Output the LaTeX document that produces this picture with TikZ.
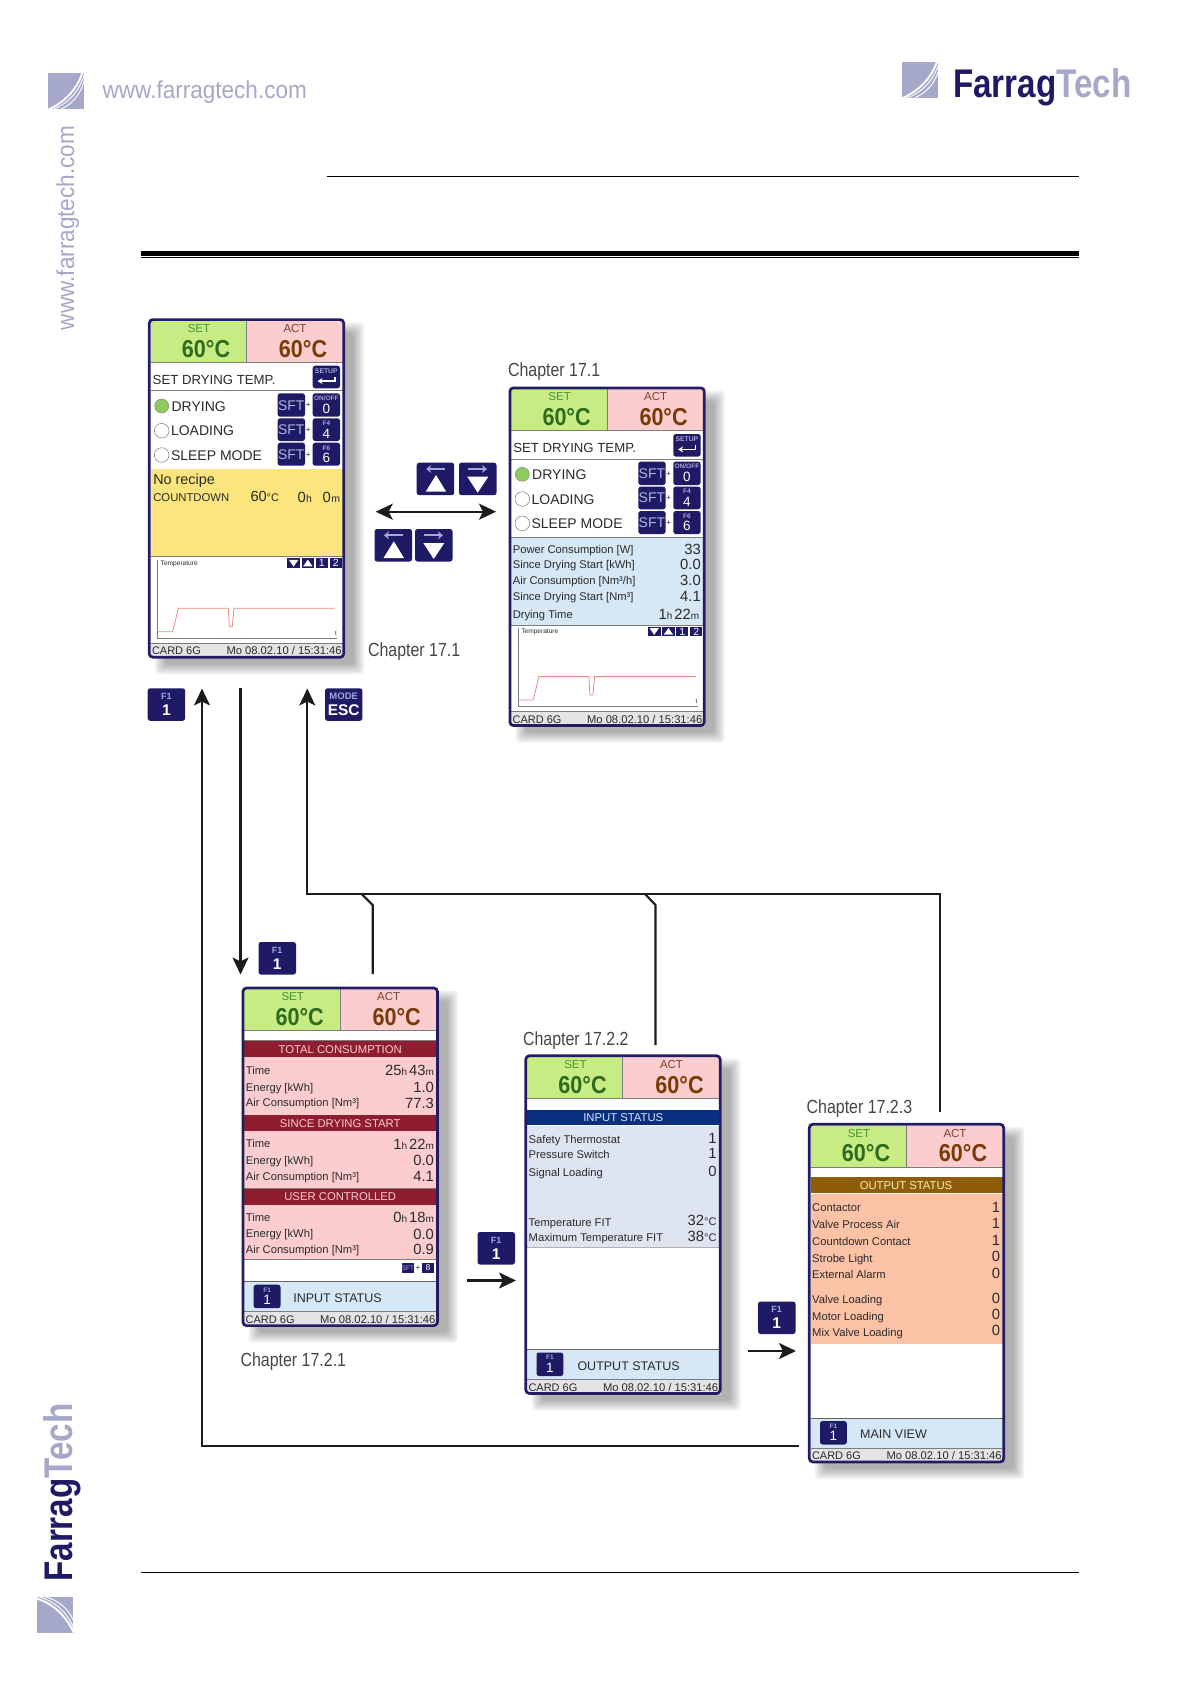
\documentclass[tikz,border=0pt]{standalone}
\usepackage{fontspec}
\setmainfont{Liberation Sans}
\newfontfamily\cond[FakeStretch=0.83]{Liberation Sans}
\newfontfamily\chapf[FakeStretch=0.84]{Liberation Sans}
\newfontfamily\web[FakeStretch=0.92]{Liberation Sans}
\newfontfamily\tempf[FakeStretch=0.88]{Liberation Sans}
\usetikzlibrary{arrows.meta,calc}
\definecolor{navy}{HTML}{1F1A66}
\definecolor{frameblue}{HTML}{221D63}
\definecolor{logoblue}{HTML}{A5A8C8}
\definecolor{setbg}{HTML}{C8EC84}
\definecolor{actbg}{HTML}{FBCDCF}
\definecolor{setdark}{HTML}{2E6B1E}
\definecolor{setlab}{HTML}{4A9236}
\definecolor{actdark}{HTML}{7A3A06}
\definecolor{actlab}{HTML}{7E3F2A}
\definecolor{inktxt}{HTML}{2A2A2A}
\definecolor{keyfaint}{HTML}{A6A6D8}
\definecolor{yelbg}{HTML}{FBE57C}
\definecolor{bluebg}{HTML}{D6E7F5}
\definecolor{lavbg}{HTML}{DEE4F0}
\definecolor{peachbg}{HTML}{FCC2A6}
\definecolor{maroon}{HTML}{8E1D30}
\definecolor{brownbar}{HTML}{8F5D0A}
\definecolor{navybar}{HTML}{0A2F80}
\definecolor{footbg}{HTML}{E4E4E4}
\definecolor{sepgray}{HTML}{7C7C7C}
\definecolor{redline}{HTML}{E88C82}
\definecolor{conn}{HTML}{1C1C1C}
\definecolor{chapgray}{HTML}{454545}
\definecolor{drygreen}{HTML}{8FCB5E}
\tikzset{
  txt/.style={inner sep=0pt,outer sep=0pt,anchor=base west,text=inktxt},
  sepline/.style={draw=sepgray,line width=0.9pt},
  connline/.style={draw=conn,line width=2.1pt},
  bigtip/.style={-{Stealth[length=17pt,width=16pt,inset=4pt]}},
  bothtips/.style={{Stealth[length=17pt,width=16pt,inset=4pt]}-{Stealth[length=17pt,width=16pt,inset=4pt]}},
  chap/.style={txt,text=chapgray,font=\chapf\fontsize{19}{19}\selectfont},
  webtxt/.style={inner sep=0pt,outer sep=0pt,text=logoblue,font=\web\fontsize{24.5}{24.5}\selectfont},
  brand/.style={inner sep=0pt,outer sep=0pt,font=\cond\bfseries\fontsize{40}{40}\selectfont}
}
\newcounter{tn}
\newcommand\fsz[1]{\fontsize{#1}{#1}\selectfont}
% [options]{x}{y (centre of capitals)}{size}{text}
\newcommand\lbl[5][]{\stepcounter{tn}\node[txt,#1] (t\arabic{tn}) at (#2,{#3+.36*#4}) {\fsz{#4}#5};}
\newcommand\rowL[2]{\lbl{4.2}{#1}{11.2}{#2}}
\newcommand\rowV[2]{\lbl[anchor=base east]{192.2}{#1}{14.8}{#2}}
\newcommand\hmv[2]{#1{\fsz{10}h}\hspace{2pt}#2{\fsz{10}m}}
\newcommand\kbox[4]{\fill[navy,rounded corners=2.5pt] (#1,#2) rectangle (#3,#4);}
% soft key inside a screen
\newcommand\skey[6]{\kbox{#1}{#2}{#3}{#4}%
  \pgfmathsetmacro\kcx{(#1+#3)/2}%
  \lbl[anchor=base,text=keyfaint]{\kcx}{#2+5}{6.5}{\textbf{#5}}%
  \lbl[anchor=base,text=white]{\kcx}{#2+15}{13.5}{#6}}
\newcommand\sftkey[2]{\kbox{129.7}{#1}{157}{#2}%
  \lbl[anchor=base,text=keyfaint!85!white]{143.3}{(#1+#2)/2}{14}{SFT}%
  \lbl[anchor=base,text=inktxt]{160.2}{(#1+#2)/2}{8}{+}}
% big key outside the screens
\newcommand\outkey[4]{\kbox{#1}{#2}{#1+37.5}{#2+32.5}%
  \lbl[anchor=base,text=keyfaint]{#1+18.7}{#2+8}{9}{\textbf{#3}}%
  \lbl[anchor=base,text=white]{#1+18.7}{#2+21.5}{15.5}{\textbf{#4}}}
\newcommand\arrup[2]{\begin{scope}[shift={(#1,#2)}]
  \kbox{0}{0}{37.5}{32.5}
  \draw[keyfaint,line width=2pt,-{Stealth[length=5pt,width=8pt]}] (28,6.3) -- (9.5,6.3);
  \fill[white] (19.3,12.3) -- (29.5,29) -- (9,29) -- cycle;
\end{scope}}
\newcommand\arrdown[2]{\begin{scope}[shift={(#1,#2)}]
  \kbox{0}{0}{37.5}{32.5}
  \draw[keyfaint,line width=2pt,-{Stealth[length=5pt,width=8pt]}] (9.3,6.3) -- (28,6.3);
  \fill[white] (8.3,14) -- (29.3,14) -- (18.7,30) -- cycle;
\end{scope}}
% logo mark: 36 x 36, origin top left
\newcommand\logomark[3]{\begin{scope}[shift={(#1,#2)},rotate=#3]
  \fill[logoblue] (0,0) rectangle (36,36);
  \draw[white,line width=1.9pt] (0,36.8) .. controls (15,30) and (29,18) .. (35,-1);
  \draw[white,line width=.9pt] (5,36.5) .. controls (19,31) and (31,20) .. (36.5,2);
  \draw[white,line width=.9pt] (12,36.5) .. controls (23,32) and (33,23) .. (37,6);
\end{scope}}
% screen frame
\newcommand\screen[4]{\begin{scope}[shift={(#2,#3)}]
  \foreach \e in {6,4,2,0,-2,-4}{\fill[black,opacity=.06,rounded corners=4pt]
     ({13-\e},{10-\e}) rectangle ({210+\e},{350+\e});}
  \fill[white] (1,1) rectangle (196,339);
  \fill[setbg] (2.7,2.7) rectangle (98.3,44);
  \fill[actbg] (98.3,2.7) rectangle (194.7,44);
  \draw[draw=sepgray,line width=.7pt] (98.3,2.7) -- (98.3,44);
  \draw[sepline] (2.7,44) -- (194.7,44);
  \lbl[anchor=base,text=setlab]{51}{10}{11.5}{SET}
  \lbl[anchor=base,text=actlab]{147}{10}{11.5}{ACT}
  \lbl[anchor=base,text=setdark]{58}{30}{24.5}{\tempf\textbf{60°C}}
  \lbl[anchor=base,text=actdark]{155}{30}{24.5}{\tempf\textbf{60°C}}
  #4
  \fill[footbg] (2.7,325) rectangle (194.7,338);
  \draw[sepline] (2.7,325) -- (194.7,325);
  \lbl{4}{332.6}{11}{CARD 6G}
  \lbl[anchor=base east]{193.7}{332.6}{11.2}{Mo 08.02.10 / 15:31:46}
  \draw[frameblue,line width=2.7pt,rounded corners=3.5pt] (1.3,1.3) rectangle (195.7,338.9);
  \node[inner sep=0pt,outer sep=0pt,minimum width=197pt,minimum height=340pt,anchor=north west] (#1) at (0,0) {};
\end{scope}}
% upper part shared by the two main views
\newcommand\mainpart{%
  \lbl{4.7}{61}{13.2}{SET DRYING TEMP.}
  \kbox{164.7}{47.4}{192}{70}
  \lbl[anchor=base,text=keyfaint]{178.3}{52.5}{6.8}{\textbf{SETUP}}
  \draw[white,line width=1.5pt,-{Stealth[length=5pt,width=6pt]}] (187,58.5) -- (187,62.8) -- (169.5,62.8);
  \draw[sepline] (2.7,72.4) -- (194.7,72.4);
  \fill[drygreen,draw=sepgray,line width=.4pt] (13.7,87.7) circle (7);
  \draw[sepgray,line width=.5pt] (13.7,112.4) circle (7.3);
  \draw[sepgray,line width=.5pt] (13.7,136.7) circle (7.3);
  \lbl{23.6}{87.7}{14}{DRYING}
  \lbl{23}{112.4}{14}{LOADING}
  \lbl{23}{136.7}{14}{SLEEP MODE}
  \sftkey{75}{98.4}\sftkey{100}{122.7}\sftkey{124.4}{147.4}
  \skey{164.7}{75}{192}{98.4}{ON/OFF}{0}
  \skey{164.7}{100}{192}{122.7}{F4}{4}
  \skey{164.7}{124.4}{192}{147.4}{F6}{6}
  \draw[sepline] (2.7,150.7) -- (194.7,150.7);}
\newcommand\graphpart{%
  \draw[sepline] (2.7,238.4) -- (194.7,238.4);
  \draw[sepgray,line width=.7pt] (9.3,241.5) -- (9.3,320) -- (189,320);
  \lbl{12.7}{245}{6.6}{Temperature}
  \lbl{187}{315}{6.2}{t}
  \draw[redline,line width=.8pt] (9.3,313.4) -- (24.7,313.4) -- (30.3,290) -- (80.3,290) -- (81.3,308.4) -- (84.3,308.4) -- (86,290) -- (187,290);
  \fill[navy] (139.3,240) rectangle (152,249.4);
  \fill[white] (141,241.5) -- (150.3,241.5) -- (145.6,248.3) -- cycle;
  \fill[navy] (153.7,240) rectangle (166,249.4);
  \fill[white] (155.2,248) -- (164.5,248) -- (159.8,241.3) -- cycle;
  \fill[navy] (167.7,240) rectangle (179.7,249.4);
  \lbl[anchor=base,text=white]{173.7}{244.8}{10.5}{1}
  \fill[navy] (181.7,240) rectangle (193.7,249.4);
  \lbl[anchor=base,text=white]{187.7}{244.8}{10.5}{2}}
\newcommand\statusband[6]{%
  \draw[sepline] (2.7,#1) -- (194.7,#1);
  \fill[#3] (2.7,#1) rectangle (194.7,#2);
  \lbl[anchor=base,text=#4]{98.5}{(#1+#2)/2}{11.3}{#5}#6}
\newcommand\fonepart[3]{%
  \draw[draw=sepgray!80!black,line width=1pt] (2.7,295) -- (194.7,295);
  \fill[bluebg] (2.7,295.5) rectangle (194.7,324.6);
  \skey{12}{298}{38.8}{321.5}{F1}{1}
  \lbl{#1}{#2}{12.5}{#3}}
\begin{document}
\begin{tikzpicture}[x=1pt,y=-1pt]
\path[use as bounding box] (0,0) rectangle (1190,1684);
% rules
\draw[black,line width=1.2pt] (327,176.5) -- (1079,176.5);
\fill[black] (141,250.8) rectangle (1079,255.6);
\draw[black,line width=1.1pt] (141,257.6) -- (1079,257.6);
\draw[black,line width=1.1pt] (141,1572.3) -- (1079,1572.3);
% branding
\logomark{47.5}{73.3}{0}
\logomark{902.3}{61.5}{0}
\logomark{37.3}{1633.3}{90}
\node[webtxt,anchor=base west] (web1) at (102.7,98) {www.farragtech.com};
\node[webtxt,anchor=base,rotate=90] (web2) at (74,228) {www.farragtech.com};
\node[brand,anchor=base west] (brand1) at (953,97.3) {\textcolor{navy}{Farrag}\textcolor{logoblue}{Tech}};
\node[brand,anchor=base west,rotate=90] (brand2) at (72.7,1581.7) {\textcolor{navy}{Farrag}\textcolor{logoblue}{Tech}};
% screens
\screen{s1}{148}{318.3}{%
  \mainpart
  \fill[yelbg] (2.7,151) rectangle (194.7,238.4);
  \lbl{5.3}{161}{14.4}{No recipe}
  \lbl{5.3}{179}{11.3}{COUNTDOWN}
  \lbl{102.5}{178}{14.6}{60{\fsz{11}°C}}
  \lbl{149.7}{179}{14.8}{0}
  \lbl{158}{180}{10.5}{h}
  \lbl{174.7}{179}{14.8}{0}
  \lbl{183.3}{180}{10.5}{m}
  \graphpart}
\screen{s2}{508.6}{386.6}{%
  \mainpart
  \fill[bluebg] (2.7,151) rectangle (194.7,238.4);
  \rowL{162.4}{Power Consumption [W]}
  \rowL{178}{Since Drying Start [kWh]}
  \rowL{194}{Air Consumption [Nm³/h]}
  \rowL{209.4}{Since Drying Start [Nm³]}
  \rowL{228}{Drying Time}
  \rowV{162.4}{33}\rowV{178}{0.0}\rowV{194}{3.0}\rowV{209.4}{4.1}
  \lbl[anchor=base east]{190.5}{228}{14.8}{\hmv{1}{22}}
  \graphpart}
\screen{s3}{241.7}{986.7}{%
  \fill[actbg] (2.7,70.6) rectangle (194.7,273);
  \statusband{54}{70.6}{maroon}{actbg}{TOTAL CONSUMPTION}{}
  \rowL{83.6}{Time}\rowL{100.3}{Energy [kWh]}\rowL{116}{Air Consumption [Nm³]}
  \lbl[anchor=base east]{192.2}{83.6}{14.8}{\hmv{25}{43}}
  \rowV{100.3}{1.0}\rowV{116}{77.3}
  \statusband{128.3}{144.5}{maroon}{actbg}{SINCE DRYING START}{}
  \rowL{157}{Time}\rowL{173.3}{Energy [kWh]}\rowL{189.3}{Air Consumption [Nm³]}
  \lbl[anchor=base east]{192.2}{157}{14.8}{\hmv{1}{22}}
  \rowV{173.3}{0.0}\rowV{189.3}{4.1}
  \statusband{202}{217.8}{maroon}{actbg}{USER CONTROLLED}{}
  \rowL{230.6}{Time}\rowL{247}{Energy [kWh]}\rowL{262.6}{Air Consumption [Nm³]}
  \lbl[anchor=base east]{192.2}{230.6}{14.8}{\hmv{0}{18}}
  \rowV{247}{0.0}\rowV{262.6}{0.9}
  \draw[sepline] (2.7,273) -- (194.7,273);
  \fill[navy] (160,276) rectangle (172.6,286);
  \lbl[anchor=base,text=keyfaint]{166.3}{281}{6.5}{SFT}
  \lbl[anchor=base]{176.2}{281}{8}{+}
  \fill[navy] (180.6,276) rectangle (192.3,286);
  \lbl[anchor=base,text=white]{186.4}{281}{8.5}{8}
  \fonepart{51.6}{311.6}{INPUT STATUS}}
\screen{s4}{524.5}{1054.5}{%
  \fill[navybar] (2.7,55) rectangle (194.7,70.5);
  \lbl[anchor=base,text=bluebg]{98.8}{62.8}{11.3}{INPUT STATUS}
  \fill[lavbg] (2.7,71.5) rectangle (194.7,193);
  \draw[draw=sepgray!60!white,line width=.8pt] (2.7,193) -- (194.7,193);
  \rowL{85}{Safety Thermostat}\rowL{100}{Pressure Switch}\rowL{117.5}{Signal Loading}
  \rowL{168}{Temperature FIT}\rowL{183}{Maximum Temperature FIT}
  \rowV{84}{1}\rowV{99}{1}\rowV{116.5}{0}
  \lbl[anchor=base east]{192}{165.5}{14.8}{32{\fsz{11}°C}}
  \lbl[anchor=base east]{192}{181.5}{14.8}{38{\fsz{11}°C}}
  \fonepart{53}{311}{OUTPUT STATUS}}
\screen{s5}{808}{1123}{%
  \fill[brownbar] (2.7,53.7) rectangle (194.7,70.3);
  \lbl[anchor=base,text=yelbg!60!white]{98}{62.3}{11.3}{OUTPUT STATUS}
  \fill[peachbg] (2.7,71.3) rectangle (194.7,221.3);
  \rowL{84.7}{Contactor}\rowL{101.7}{Valve Process Air}\rowL{118}{Countdown Contact}
  \rowL{135.3}{Strobe Light}\rowL{151.7}{External Alarm}
  \rowL{176}{Valve Loading}\rowL{193.3}{Motor Loading}\rowL{209}{Mix Valve Loading}
  \rowV{84}{1}\rowV{100}{1}\rowV{117}{1}\rowV{133}{0}\rowV{150}{0}\rowV{175}{0}\rowV{191}{0}\rowV{207}{0}
  \fonepart{52.2}{311}{MAIN VIEW}}
% chapter labels
\node[chap] (c1) at (508,376) {Chapter 17.1};
\node[chap] (c2) at (368,656) {Chapter 17.1};
\node[chap] (c3) at (240.5,1366) {Chapter 17.2.1};
\node[chap] (c4) at (523,1045) {Chapter 17.2.2};
\node[chap] (c5) at (806.6,1113) {Chapter 17.2.3};
% keys
\arrup{416.7}{462.7}\arrdown{459}{462.7}
\arrup{374.5}{529}\arrdown{415}{529}
\outkey{147.7}{688.3}{F1}{1}
\kbox{325}{688.3}{362.4}{720.8}
\lbl[anchor=base,text=keyfaint]{343.7}{696}{9.5}{\textbf{MODE}}
\lbl[anchor=base,text=white]{343.7}{710}{15.5}{\textbf{ESC}}
\outkey{258.5}{942}{F1}{1}
\outkey{477.5}{1232}{F1}{1}
\outkey{758}{1301.5}{F1}{1}
% connectors
\coordinate (dA) at (375.7,511.7);
\coordinate (dB) at (496,511.7);
\draw[connline,bothtips] (dA) -- (dB);
\coordinate (u1top) at (202,688.5);
\coordinate (u1bot) at (202,1446);
\coordinate (u1end) at (799,1446);
\draw[connline,bigtip,line join=miter] (u1end) -- (u1bot) -- (u1top);
\coordinate (d1top) at (240.5,688);
\coordinate (d1bot) at (240.5,974.5);
\draw[connline,bigtip] (d1top) -- (d1bot);
\coordinate (u2top) at (307.3,688.5);
\coordinate (u2cor) at (307.3,894);
\coordinate (u2r) at (940,894);
\coordinate (u2end) at (940,1112);
\draw[connline,bigtip] (u2end) -- (u2r) -- (u2cor) -- (u2top);
\coordinate (b1a) at (361.7,894);
\coordinate (b1b) at (372.7,905);
\coordinate (b1c) at (372.7,974);
\draw[connline] (b1a) -- (b1b) -- (b1c);
\coordinate (b2a) at (645,894);
\coordinate (b2b) at (655.5,905);
\coordinate (b2c) at (655.5,1045);
\draw[connline] (b2a) -- (b2b) -- (b2c);
\coordinate (h1a) at (467,1280.5);
\coordinate (h1b) at (516,1280.5);
\draw[connline,bigtip] (h1a) -- (h1b);
\coordinate (h2a) at (747.5,1351);
\coordinate (h2b) at (796,1351);
\draw[connline,bigtip] (h2a) -- (h2b);
\end{tikzpicture}
\end{document}
